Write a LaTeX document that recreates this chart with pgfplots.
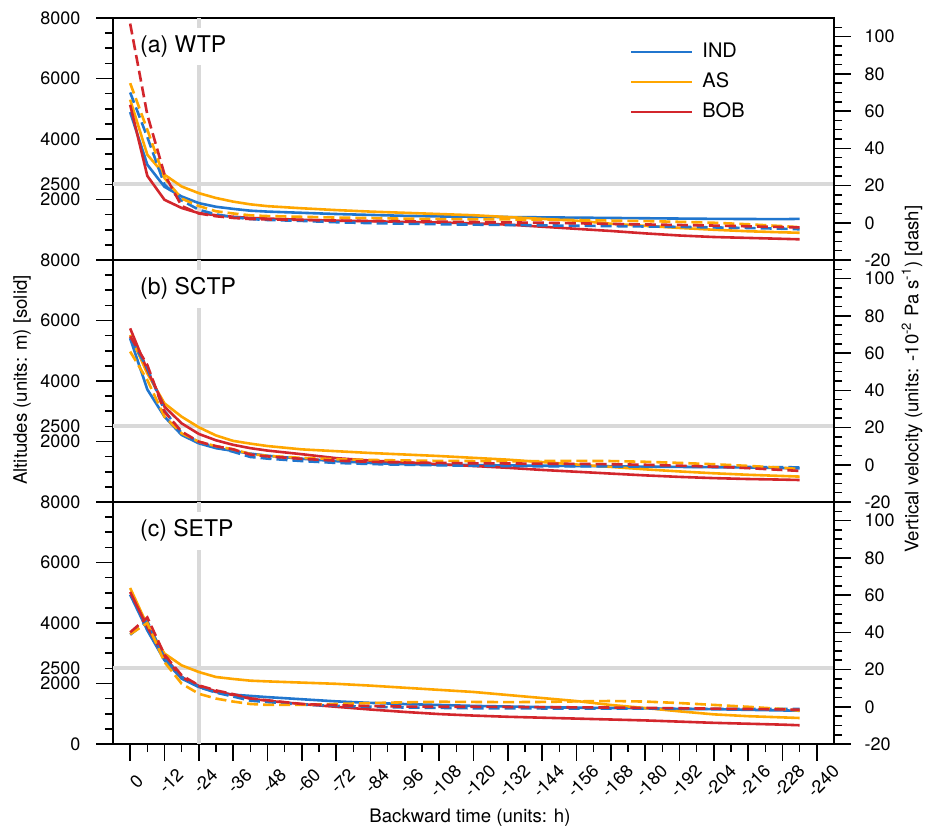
\documentclass[border=0pt]{standalone}
\usepackage{fontspec}
\setmainfont{TeX Gyre Heros}
\usepackage{pgfplots}
\usepackage{pgfplotstable}
\pgfplotsset{compat=1.18}

\definecolor{cIND}{RGB}{33,118,206}
\definecolor{cAS}{RGB}{255,166,0}
\definecolor{cBOB}{RGB}{211,38,44}
\definecolor{refgrey}{RGB}{217,217,217}

% altitude (m) in ind/as/bob, vertical velocity in indv/asv/bobv
\pgfplotstableread{
h     ind   as    bob   indv  asv   bobv
0     4890  5300  5130  70    75    107
-6    3150  3480  2780  46    50    58
-12   2420  2820  1990  20.5  24    26
-18   2100  2430  1720  12    13    9
-24   1880  2210  1550  7     9     5
-30   1760  2050  1480  4.5   6.2   3.5
-36   1690  1930  1430  3     5     2.6
-42   1630  1840  1390  2     4     2
-48   1600  1780  1370  1.5   3.6   1.8
-60   1560  1710  1330  1     3.2   1.5
-72   1520  1650  1300  0.3   2.8   1.2
-84   1490  1600  1280  -0.2  2.5   1
-96   1460  1560  1260  -0.5  2.2   0.8
-108  1440  1520  1240  -0.8  2     0.6
-120  1430  1480  1210  -1    1.9   0.4
-132  1420  1420  1170  -1.2  1.8   0.2
-144  1410  1360  1100  -1.4  1.7   0
-156  1400  1300  1030  -1.6  1.5   -0.3
-168  1390  1200  960   -1.8  1.2   -0.6
-180  1380  1130  880   -2    0.9   -0.9
-192  1370  1060  810   -2.2  0.5   -1.2
-204  1360  1000  760   -2.5  0     -1.5
-216  1355  950   730   -2.8  -0.8  -1.9
-228  1350  915   700   -3.2  -1.8  -2.3
-234  1360  900   684   -3.5  -2.4  -2.5
}\tabA

\pgfplotstableread{
h     ind   as    bob   indv  asv   bobv
0     5410  5520  5740  68    60.8  69
-6    3720  4250  4360  52    45.5  53.6
-12   2820  3260  3150  29    25.8  28.5
-18   2215  2820  2600  17    16.9  17.8
-24   1940  2470  2250  12    12.4  12.4
-30   1780  2200  2040  9.5   10    10
-36   1690  2020  1890  7     8.3   8.3
-42   1600  1930  1780  4.2   5.8   5.5
-48   1530  1850  1700  3.3   4.8   4.5
-60   1430  1740  1580  2     3.7   3.2
-72   1350  1680  1450  1     3     2.2
-84   1290  1620  1370  0.4   2.6   1.6
-96   1250  1570  1310  0     2.3   1.2
-108  1230  1520  1250  -0.3  2.1   1
-120  1220  1460  1190  -0.5  2     0.8
-132  1210  1400  1130  -0.7  1.9   0.7
-144  1200  1320  1060  -0.8  2     0.6
-156  1190  1240  1000  -0.8  2.1   0.5
-168  1180  1160  940   -0.9  2     0.3
-180  1170  1080  880   -1    1.6   0
-192  1160  1010  830   -1    1     -0.5
-204  1150  950   790   -1.1  0.3   -1
-216  1140  900   760   -1.2  -0.6  -1.8
-228  1120  860   740   -1.3  -1.6  -2.8
-234  1110  840   727   -1.4  -2.3  -3.3
}\tabB

\pgfplotstableread{
h     ind   as    bob   indv  asv   bobv
0     4937  5157  5025  38.7  39    40
-6    3758  3920  3868  46    45    48
-12   2766  2990  2876  26    24    28
-18   2160  2600  2215  16    12.4  16.9
-24   1884  2380  1920  10.6  7     11.5
-30   1719  2215  1740  7.6   4.4   8.8
-36   1631  2150  1620  5.5   2.8   6.8
-42   1590  2094  1500  3.3   1.5   4.5
-48   1550  2070  1430  2.5   1.0   3.5
-60   1480  2030  1320  1.2   1.0   1.5
-72   1410  1990  1230  0.5   1.5   0.8
-84   1360  1930  1140  0     2     0.4
-96   1320  1860  1060  -0.4  2.4   0.1
-108  1290  1790  990   -0.6  2.7   0
-120  1260  1720  940   -0.8  2.6   0
-132  1240  1620  900   -0.8  2.5   -0.1
-144  1220  1520  870   -0.9  2.6   -0.2
-156  1200  1420  840   -0.9  2.9   -0.3
-168  1190  1290  810   -1    3.1   -0.4
-180  1180  1190  780   -1    2.8   -0.6
-192  1160  1080  740   -1.1  2     -0.8
-204  1150  980   700   -1.1  1     -1
-216  1130  920   670   -1.2  0     -1.2
-228  1110  880   640   -1.2  -1.2  -1.4
-234  1100  860   620   -1.2  -2.1  -1.6
}\tabC

\tikzset{
  sol/.style={line width=1.3pt, solid},
  das/.style={line width=1.3pt, dash pattern=on 5.5pt off 2.5pt},
  plabel/.style={fill=white, inner sep=4pt, anchor=west, font=\fontsize{11.5}{13}\selectfont},
}

\pgfplotsset{
  panel/.style={scale only axis, width=360.5pt, height=121pt,
    xmin=-246, xmax=6, x dir=reverse,
    tick align=outside, major tick length=8.3pt, minor tick length=4pt,
    every tick/.style={black, line width=0.8pt},
    axis line style={line width=0.9pt},
    tick label style={font=\fontsize{9}{10}\selectfont}},
  alt/.style={panel, ymin=0, ymax=8000,
    ytick={0,2000,4000,6000,8000}, minor ytick={500,1000,...,7500},
    ytick pos=left, xtick pos=bottom,
    extra y ticks={2500}, extra y tick labels={2500},
    extra y tick style={major tick style={draw=none}},
    yticklabel style={xshift=-4.5pt}, xtick=\empty},
  vel/.style={panel, ymin=-20, ymax=110,
    ytick={-20,0,...,100}, yticklabels={-20,0,20,40,60,80,100},
    minor ytick={-15,-10,...,105},
    axis y line*=right, axis x line=none, xtick=\empty,
    yticklabel style={xshift=3.5pt}},
}

\newcommand{\refl}{%
  \draw[refgrey, line width=2pt] (axis cs:6,2500) -- (axis cs:-246,2500);
  \draw[refgrey, line width=2pt] (axis cs:-24,0) -- (axis cs:-24,8000);}

\begin{document}
\begin{tikzpicture}
\useasboundingbox (-56.5pt,-43.5pt) rectangle (408pt,372pt);

% (a) WTP
\begin{axis}[alt, at={(0,242pt)}, yticklabels={,2000,4000,6000,8000},
  legend style={at={(0.708,0.93)}, anchor=north west, draw=none, fill=none,
    font=\fontsize{10}{12}\selectfont, row sep=2pt, column sep=2.5pt},
  legend cell align=left,
  legend image code/.code={\draw[#1] (0pt,0pt) -- (30.5pt,0pt);}]
\refl
\node[plabel] at (rel axis cs:0.026,0.882) {(a) WTP};
\addplot[sol, cIND] table[x=h, y=ind] {\tabA};
\addplot[sol, cAS] table[x=h, y=as] {\tabA};
\addplot[sol, cBOB] table[x=h, y=bob] {\tabA};
\legend{IND, AS, BOB}
\end{axis}
\begin{axis}[vel, at={(0,242pt)}]
\addplot[das, cIND] table[x=h, y=indv] {\tabA};
\addplot[das, cAS] table[x=h, y=asv] {\tabA};
\addplot[das, cBOB] table[x=h, y=bobv] {\tabA};
\end{axis}

% (b) SCTP
\begin{axis}[alt, at={(0,121pt)}, yticklabels={,2000,4000,6000,8000}]
\refl
\node[plabel] at (rel axis cs:0.026,0.882) {(b) SCTP};
\addplot[sol, cIND] table[x=h, y=ind] {\tabB};
\addplot[sol, cAS] table[x=h, y=as] {\tabB};
\addplot[sol, cBOB] table[x=h, y=bob] {\tabB};
\end{axis}
\begin{axis}[vel, at={(0,121pt)}]
\addplot[das, cIND] table[x=h, y=indv] {\tabB};
\addplot[das, cAS] table[x=h, y=asv] {\tabB};
\addplot[das, cBOB] table[x=h, y=bobv] {\tabB};
\end{axis}

% (c) SETP
\begin{axis}[alt, at={(0,0)}, yticklabels={0,2000,4000,6000,8000},
  xtick={0,-12,...,-240}, minor xtick={-6,-18,...,-234},
  xticklabels={0,-12,-24,-36,-48,-60,-72,-84,-96,-108,-120,-132,-144,-156,-168,-180,-192,-204,-216,-228,-240},
  xticklabel style={rotate=45, anchor=center, xshift=-5pt, yshift=-9.5pt}]
\refl
\node[plabel] at (rel axis cs:0.026,0.882) {(c) SETP};
\addplot[sol, cIND] table[x=h, y=ind] {\tabC};
\addplot[sol, cAS] table[x=h, y=as] {\tabC};
\addplot[sol, cBOB] table[x=h, y=bob] {\tabC};
\end{axis}
\begin{axis}[vel, at={(0,0)}]
\addplot[das, cIND] table[x=h, y=indv] {\tabC};
\addplot[das, cAS] table[x=h, y=asv] {\tabC};
\addplot[das, cBOB] table[x=h, y=bobv] {\tabC};
\end{axis}

\node[rotate=90, font=\fontsize{9.3}{11}\selectfont] at (-45.5pt,182pt) {Altitudes (units: m) [solid]};
\node[rotate=90, font=\fontsize{9.3}{11}\selectfont] at (399.5pt,182.5pt) {Vertical velocity (units: -10\textsuperscript{-2} Pa s\textsuperscript{-1}) [dash]};
\node[font=\fontsize{9.3}{11}\selectfont] at (178.5pt,-37pt) {Backward time (units: h)};
\end{tikzpicture}
\end{document}
